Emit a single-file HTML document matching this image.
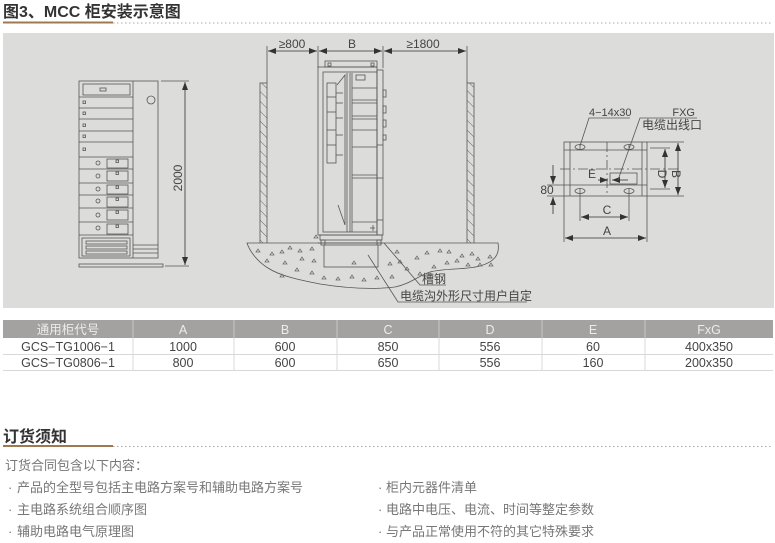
<!DOCTYPE html>
<html><head><meta charset="utf-8">
<style>
html,body{margin:0;padding:0;background:#fff;}
body{width:775px;height:543px;overflow:hidden;position:relative;font-family:"Liberation Sans","Noto Sans CJK SC",sans-serif;}
svg{position:absolute;left:0;top:0;}
.t{font-family:"Liberation Sans","Noto Sans CJK SC",sans-serif;}
</style></head><body>
<svg width="775" height="543" viewBox="0 0 775 543" xmlns="http://www.w3.org/2000/svg">
<defs>
<pattern id="hatch" width="7" height="7" patternUnits="userSpaceOnUse" patternTransform="rotate(-45)">
<line x1="0" y1="0" x2="0" y2="7" stroke="#666" stroke-width="1"/>
</pattern>
<marker id="ar" markerWidth="8" markerHeight="6" refX="8" refY="3" orient="auto" markerUnits="userSpaceOnUse">
<path d="M0,0 L8,3 L0,6 Z" fill="#333"/>
</marker>
<marker id="al" markerWidth="8" markerHeight="6" refX="0" refY="3" orient="auto" markerUnits="userSpaceOnUse">
<path d="M8,0 L0,3 L8,6 Z" fill="#333"/>
</marker>
</defs>

<!-- Title -->
<text x="3" y="17" class="t" font-size="16" font-weight="bold" fill="#333">图3、MCC 柜安装示意图</text>
<line x1="3" y1="22.5" x2="113" y2="22.5" stroke="#a07850" stroke-width="2"/>
<line x1="113" y1="23" x2="773" y2="23" stroke="#aaa" stroke-width="1" stroke-dasharray="1.5,2.5"/>

<!-- Panel -->
<rect x="3" y="33" width="771" height="275" fill="#dcdcda"/>

<g stroke="#555" stroke-width="0.8" fill="none">
<!-- Left cabinet -->
<rect x="79" y="81" width="79" height="177"/>
<line x1="133" y1="81" x2="133" y2="258"/>
<rect x="83" y="84" width="47" height="11"/>
<rect x="100" y="88" width="6" height="3"/>
<line x1="79" y1="97" x2="133" y2="97"/>
<line x1="79" y1="108" x2="133" y2="108"/>
<line x1="79" y1="119" x2="133" y2="119"/>
<line x1="79" y1="131" x2="133" y2="131"/>
<line x1="79" y1="142" x2="133" y2="142"/>
<line x1="79" y1="157" x2="133" y2="157"/>
<line x1="79" y1="169" x2="133" y2="169"/>
<line x1="79" y1="183" x2="133" y2="183"/>
<line x1="79" y1="195" x2="133" y2="195"/>
<line x1="79" y1="208" x2="133" y2="208"/>
<line x1="79" y1="222" x2="133" y2="222"/>
<line x1="79" y1="235" x2="133" y2="235"/>
<rect x="83" y="101" width="2.5" height="2.5"/>
<rect x="83" y="112" width="2.5" height="2.5"/>
<rect x="83" y="124" width="2.5" height="2.5"/>
<rect x="83" y="135" width="2.5" height="2.5"/>
<rect x="83" y="148" width="2.5" height="2.5"/>
<circle cx="98" cy="163" r="2"/><rect x="107" y="159" width="21" height="9"/><rect x="116" y="160" width="2.5" height="2.5"/>
<circle cx="98" cy="176" r="2"/><rect x="107" y="171" width="21" height="10"/><rect x="116" y="172" width="2.5" height="2.5"/>
<circle cx="98" cy="189" r="2"/><rect x="107" y="185" width="21" height="9"/><rect x="116" y="186" width="2.5" height="2.5"/>
<circle cx="98" cy="201" r="2"/><rect x="107" y="197" width="21" height="10"/><rect x="116" y="198" width="2.5" height="2.5"/>
<circle cx="98" cy="215" r="2"/><rect x="107" y="210" width="21" height="10"/><rect x="116" y="211" width="2.5" height="2.5"/>
<circle cx="98" cy="228" r="2"/><rect x="107" y="224" width="21" height="10"/><rect x="116" y="225" width="2.5" height="2.5"/>
<rect x="82" y="238" width="48" height="18"/>
<rect x="86" y="241" width="41" height="3"/>
<rect x="86" y="246" width="41" height="3"/>
<rect x="86" y="251" width="41" height="3"/>
<circle cx="151" cy="100" r="4"/>
<line x1="133" y1="245" x2="158" y2="245"/>
<line x1="133" y1="249" x2="158" y2="249"/>
<line x1="133" y1="253" x2="158" y2="253"/>
<rect x="79" y="264" width="84" height="3"/>
<line x1="161" y1="81" x2="189" y2="81"/>
<line x1="165" y1="266" x2="189" y2="266"/>
<line x1="185" y1="82" x2="185" y2="265" marker-start="url(#al)" marker-end="url(#ar)" stroke="#333"/>

<!-- Middle: walls -->
<rect x="260" y="83" width="7" height="169" fill="url(#hatch)"/>
<rect x="467" y="83" width="7" height="169" fill="url(#hatch)"/>
<!-- ground -->
<path d="M247,243 L318,243 M383,243 L498,243 C500,255 494,262 480,266 C465,270 445,268 430,272 C418,276 410,284 395,287 C370,290 345,288 320,284 C300,280 280,276 268,268 C258,262 250,252 247,243 Z" fill="#dcdcda"/>
<!-- dims top -->
<line x1="267" y1="46" x2="267" y2="83"/>
<line x1="318" y1="46" x2="318" y2="68"/>
<line x1="383" y1="46" x2="383" y2="68"/>
<line x1="467" y1="46" x2="467" y2="83"/>
<line x1="268" y1="51" x2="317" y2="51" marker-start="url(#al)" marker-end="url(#ar)" stroke="#333"/>
<line x1="319" y1="51" x2="382" y2="51" marker-start="url(#al)" marker-end="url(#ar)" stroke="#333"/>
<line x1="384" y1="51" x2="466" y2="51" marker-start="url(#al)" marker-end="url(#ar)" stroke="#333"/>
<!-- middle cabinet -->
<rect x="325" y="61" width="52" height="6"/>
<rect x="328" y="63" width="3" height="3"/>
<rect x="371" y="63" width="3" height="3"/>
<rect x="318" y="67" width="59" height="168"/>
<rect x="323" y="72" width="54" height="160"/>
<rect x="377" y="70" width="6" height="165"/>
<rect x="383" y="90" width="3" height="7"/>
<rect x="383" y="106" width="3" height="7"/>
<rect x="383" y="120" width="3" height="7"/>
<rect x="383" y="135" width="3" height="5"/>
<line x1="377" y1="145" x2="383" y2="145"/>
<line x1="377" y1="178" x2="383" y2="178"/>
<line x1="377" y1="220" x2="383" y2="220"/>
<rect x="356" y="75" width="9" height="5"/>
<rect x="327" y="83" width="9" height="80"/>
<line x1="327" y1="97" x2="336" y2="97"/>
<line x1="327" y1="112" x2="336" y2="112"/>
<line x1="327" y1="130" x2="336" y2="130"/>
<line x1="327" y1="145" x2="336" y2="145"/>
<line x1="336" y1="93" x2="343" y2="93"/>
<line x1="336" y1="103" x2="343" y2="103"/>
<line x1="336" y1="118" x2="343" y2="118"/>
<line x1="336" y1="135" x2="343" y2="135"/>
<line x1="336" y1="155" x2="343" y2="155"/>
<path d="M337,85 L345,75 L345,225 L338,205"/>
<line x1="347" y1="73" x2="347" y2="232"/>
<line x1="350" y1="73" x2="350" y2="232"/>
<line x1="352" y1="73" x2="352" y2="232"/>
<line x1="352" y1="88" x2="377" y2="88"/>
<line x1="352" y1="100" x2="377" y2="100"/>
<line x1="352" y1="103" x2="377" y2="103"/>
<line x1="352" y1="116" x2="377" y2="116"/>
<line x1="352" y1="119" x2="377" y2="119"/>
<line x1="352" y1="130" x2="377" y2="130"/>
<line x1="352" y1="147" x2="377" y2="147"/>
<line x1="352" y1="175" x2="377" y2="175"/>
<line x1="352" y1="178" x2="377" y2="178"/>
<line x1="352" y1="222" x2="377" y2="222"/>
<line x1="370" y1="228" x2="375" y2="228"/>
<line x1="373" y1="225" x2="373" y2="231"/>
<!-- base / channel -->
<rect x="320" y="235" width="62" height="5"/>
<rect x="321" y="240" width="4" height="5"/>
<rect x="377" y="240" width="4" height="5"/>
<line x1="318" y1="243" x2="383" y2="243"/>
<rect x="324" y="245" width="54" height="22" fill="#dcdcda"/>
<!-- leaders -->
<path d="M384,243 L420,285 L446,285"/>
<path d="M368,255 L398,302 L527,302"/>

<!-- Right plan -->
<rect x="564" y="142" width="83" height="54"/>
<line x1="570" y1="142" x2="570" y2="196"/>
<line x1="642" y1="142" x2="642" y2="196"/>
<line x1="564" y1="150" x2="647" y2="150"/>
<line x1="564" y1="185" x2="647" y2="185"/>
<line x1="607" y1="142" x2="607" y2="196" stroke-dasharray="10,3,2,3"/>
<line x1="560" y1="169" x2="680" y2="169" stroke-dasharray="10,3,2,3"/>
<ellipse cx="580" cy="147" rx="5" ry="2.5"/><line x1="580" y1="144" x2="580" y2="150"/>
<ellipse cx="629" cy="147" rx="5" ry="2.5"/><line x1="629" y1="144" x2="629" y2="150"/>
<ellipse cx="580" cy="191" rx="5" ry="2.5"/><line x1="580" y1="188" x2="580" y2="194"/>
<ellipse cx="629" cy="191" rx="5" ry="2.5"/><line x1="629" y1="188" x2="629" y2="194"/>
<rect x="610" y="173" width="27" height="11"/>
<line x1="598" y1="180" x2="608" y2="180" marker-end="url(#ar)" stroke="#333"/>
<line x1="628" y1="180" x2="612" y2="180" marker-end="url(#ar)" stroke="#333"/>
<line x1="647" y1="142" x2="684" y2="142"/>
<line x1="647" y1="196" x2="684" y2="196"/>
<line x1="650" y1="148" x2="670" y2="148"/>
<line x1="650" y1="189" x2="670" y2="189"/>
<line x1="665" y1="149" x2="665" y2="188" marker-start="url(#al)" marker-end="url(#ar)" stroke="#333"/>
<line x1="678" y1="143" x2="678" y2="195" marker-start="url(#al)" marker-end="url(#ar)" stroke="#333"/>
<line x1="547" y1="185" x2="564" y2="185"/>
<line x1="547" y1="196" x2="564" y2="196"/>
<line x1="553" y1="165" x2="553" y2="184" marker-end="url(#ar)" stroke="#333"/>
<line x1="553" y1="214" x2="553" y2="197" marker-end="url(#ar)" stroke="#333"/>
<line x1="580" y1="194" x2="580" y2="221"/>
<line x1="629" y1="194" x2="629" y2="221"/>
<line x1="564" y1="196" x2="564" y2="242"/>
<line x1="647" y1="196" x2="647" y2="242"/>
<line x1="581" y1="217" x2="628" y2="217" marker-start="url(#al)" marker-end="url(#ar)" stroke="#333"/>
<line x1="565" y1="238" x2="646" y2="238" marker-start="url(#al)" marker-end="url(#ar)" stroke="#333"/>
<path d="M630,118 L589,118 L580,146"/>
<path d="M697,118 L640,118 L618,180"/>
</g>

<!-- ground triangles -->
<g fill="none" stroke="#666" stroke-width="0.7">
<path d="M256,252 l2,-3 l2,3z M270,255 l2,-3 l2,3z M280,253 l2,-3 l2,3z M288,249 l2,-3 l2,3z M298,252 l2,-3 l2,3z M310,250 l2,-3 l2,3z M265,262 l2,-3 l2,3z M283,264 l2,-3 l2,3z M300,260 l2,-3 l2,3z M312,262 l2,-3 l2,3z M295,271 l2,-3 l2,3z M310,274 l2,-3 l2,3z M280,277 l2,-3 l2,3z M322,279 l2,-3 l2,3z M336,280 l2,-3 l2,3z M350,278 l2,-3 l2,3z M362,281 l2,-3 l2,3z M375,279 l2,-3 l2,3z M390,278 l2,-3 l2,3z M388,265 l2,-3 l2,3z M398,263 l2,-3 l2,3z M395,253 l2,-3 l2,3z M405,270 l2,-3 l2,3z M415,259 l2,-3 l2,3z M418,275 l2,-3 l2,3z M425,254 l2,-3 l2,3z M438,252 l2,-3 l2,3z M447,253 l2,-3 l2,3z M460,257 l2,-3 l2,3z M470,255 l2,-3 l2,3z M476,260 l2,-3 l2,3z M455,262 l2,-3 l2,3z M445,264 l2,-3 l2,3z M466,266 l2,-3 l2,3z M478,266 l2,-3 l2,3z M488,258 l2,-3 l2,3z M489,266 l2,-3 l2,3z M432,268 l2,-3 l2,3z M352,264 l2,-3 l2,3z M314,238 l2,-3 l2,3z"/>
</g>

<!-- drawing text -->
<g class="t" font-family="Liberation Sans, Noto Sans CJK SC, sans-serif" fill="#444" font-size="12">
<text x="182" y="178" transform="rotate(-90 182 178)" text-anchor="middle">2000</text>
<text x="292" y="48" text-anchor="middle">≥800</text>
<text x="352" y="48" text-anchor="middle">B</text>
<text x="423" y="48" text-anchor="middle">≥1800</text>
<text x="422" y="283" font-size="12">槽钢</text>
<text x="400" y="300" font-size="12">电缆沟外形尺寸用户自定</text>
<text x="589" y="116" font-size="11">4−14x30</text>
<text x="695" y="116" font-size="11" text-anchor="end">FXG</text>
<text x="642" y="129" font-size="12">电缆出线口</text>
<text x="592" y="178" font-size="12" text-anchor="middle">E</text>
<text x="662" y="170" font-size="12" text-anchor="middle" transform="rotate(90 658 170)">D</text>
<text x="676" y="170" font-size="12" text-anchor="middle" transform="rotate(90 672 170)">B</text>
<text x="547" y="194" font-size="12" text-anchor="middle">80</text>
<text x="607" y="214" font-size="12" text-anchor="middle">C</text>
<text x="607" y="235" font-size="12" text-anchor="middle">A</text>
</g>

<!-- Table -->
<rect x="3" y="320" width="770" height="18" fill="#a3a2a0"/>
<g stroke="#c8c8c8" stroke-width="1">
<line x1="133" y1="320" x2="133" y2="338"/>
<line x1="234" y1="320" x2="234" y2="338"/>
<line x1="337" y1="320" x2="337" y2="338"/>
<line x1="439" y1="320" x2="439" y2="338"/>
<line x1="542" y1="320" x2="542" y2="338"/>
<line x1="645" y1="320" x2="645" y2="338"/>
</g>
<g stroke="#d8d8d8" stroke-width="1">
<line x1="133" y1="338" x2="133" y2="371"/>
<line x1="234" y1="338" x2="234" y2="371"/>
<line x1="337" y1="338" x2="337" y2="371"/>
<line x1="439" y1="338" x2="439" y2="371"/>
<line x1="542" y1="338" x2="542" y2="371"/>
<line x1="645" y1="338" x2="645" y2="371"/>
<line x1="3" y1="354.5" x2="773" y2="354.5"/>
<line x1="3" y1="370.5" x2="773" y2="370.5"/>
</g>
<g class="t" font-family="Liberation Sans, Noto Sans CJK SC, sans-serif" font-size="12.5" text-anchor="middle">
<g fill="#ececec">
<text x="68" y="334">通用柜代号</text>
<text x="183" y="334">A</text>
<text x="285" y="334">B</text>
<text x="388" y="334">C</text>
<text x="490" y="334">D</text>
<text x="593" y="334">E</text>
<text x="709" y="334">FxG</text>
</g>
<g fill="#444">
<text x="68" y="351">GCS−TG1006−1</text>
<text x="183" y="351">1000</text>
<text x="285" y="351">600</text>
<text x="388" y="351">850</text>
<text x="490" y="351">556</text>
<text x="593" y="351">60</text>
<text x="709" y="351">400x350</text>
<text x="68" y="367">GCS−TG0806−1</text>
<text x="183" y="367">800</text>
<text x="285" y="367">600</text>
<text x="388" y="367">650</text>
<text x="490" y="367">556</text>
<text x="593" y="367">160</text>
<text x="709" y="367">200x350</text>
</g>
</g>

<!-- Section 2 -->
<text x="3" y="442" class="t" font-size="16" font-weight="bold" fill="#333">订货须知</text>
<line x1="3" y1="446" x2="113" y2="446" stroke="#a07850" stroke-width="2"/>
<line x1="113" y1="446.5" x2="773" y2="446.5" stroke="#aaa" stroke-width="1" stroke-dasharray="1.5,2.5"/>
<g class="t" font-family="Liberation Sans, Noto Sans CJK SC, sans-serif" font-size="13" fill="#777">
<text x="5" y="470">订货合同包含以下内容：</text>
<text x="8" y="492">·</text><text x="17" y="492">产品的全型号包括主电路方案号和辅助电路方案号</text>
<text x="8" y="514">·</text><text x="17" y="514">主电路系统组合顺序图</text>
<text x="8" y="536">·</text><text x="17" y="536">辅助电路电气原理图</text>
<text x="378" y="492">·</text><text x="386" y="492">柜内元器件清单</text>
<text x="378" y="514">·</text><text x="386" y="514">电路中电压、电流、时间等整定参数</text>
<text x="378" y="536">·</text><text x="386" y="536">与产品正常使用不符的其它特殊要求</text>
</g>
</svg>
</body></html>
